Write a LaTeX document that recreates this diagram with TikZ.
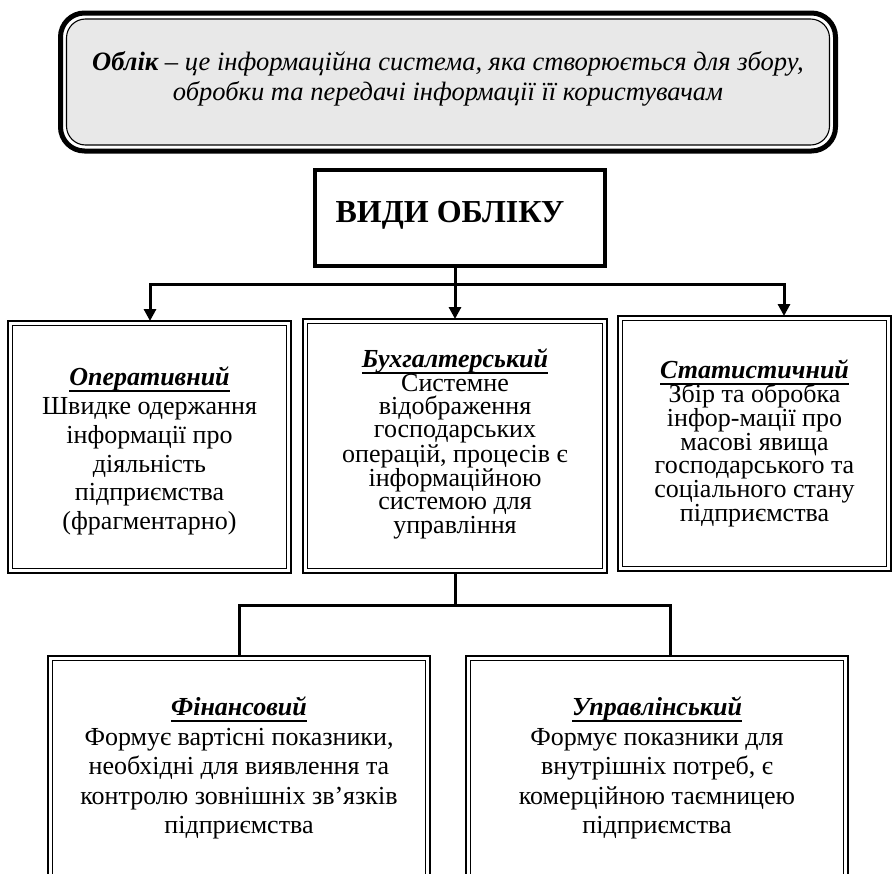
\documentclass[tikz,border=0pt]{standalone}
\usepackage{fontspec}
\setmainfont{Liberation Serif}
\usetikzlibrary{arrows.meta,backgrounds}
\lineskiplimit=-100pt
% heading: bold italic with a heavy underline
\newcommand\hd[1]{\setbox0=\hbox{\bfseries\itshape #1}\leavevmode\rlap{\raisebox{-6pt}{\rule{\wd0}{2pt}}}\box0}
% shift a block vertically while keeping its reported size
\newcommand\nudge[2]{\raisebox{#1}[\height][\depth]{#2}}
\begin{document}
\begin{tikzpicture}[x=1pt,y=-1pt,
  frame/.style={draw=black, line width=2.4pt, inner sep=0pt, outer sep=0pt, align=center},
  innerframe/.style={draw=black, line width=1.1pt},
  conn/.style={line width=3pt, draw=black},
  arr/.style={conn, -{Triangle[length=12pt,width=12pt]}},
]
\useasboundingbox (0,0) rectangle (894,873);
\clip (0,0) rectangle (894,873);

% definition banner
\node[draw=black, line width=5pt, rounded corners=24pt, minimum width=775pt, minimum height=138pt,
      inner sep=0pt, outer sep=0pt, align=center,
      font=\fontsize{26.5}{30}\selectfont\itshape] (def) at (448,82)
  {\nudge{3pt}{\parbox{770pt}{\centering\textbf{Облік} – це інформаційна система, яка створюється для збору,\\ обробки та передачі інформації її користувачам}}};
\begin{scope}[on background layer]
  \draw[line width=1.1pt, fill=black!9, rounded corners=19pt]
    ([shift={(6pt,-6pt)}]def.north west) rectangle ([shift={(-6pt,6pt)}]def.south east);
\end{scope}

% title box
\node[draw=black, line width=4.5pt, minimum width=290pt, minimum height=96pt, outer sep=0pt] (vidy) at (460,218) {};
\node[font=\fontsize{32}{36}\selectfont\bfseries] (vidyt) at (450,215) {ВИДИ ОБЛІКУ};

% kinds of accounting
\node[frame, minimum width=283pt, minimum height=252pt, font=\fontsize{26}{28.8}\selectfont] (b1) at (149.5,447)
  {\nudge{-4pt}{\parbox{270pt}{\centering\hd{Оперативний}\\Швидке одержання\\інформації про\\діяльність\\підприємства\\(фрагментарно)}}};
\node[frame, minimum width=304pt, minimum height=254pt, font=\fontsize{26}{23.3}\selectfont] (b2) at (455,446)
  {\nudge{2pt}{\parbox{290pt}{\centering\hd{Бухгалтерський}\\Системне\\відображення\\господарських\\операцій, процесів є\\інформаційною\\системою для\\управління}}};
\node[frame, minimum width=273pt, minimum height=255pt, font=\fontsize{26}{23.8}\selectfont] (b3) at (754.5,443.5)
  {\hd{Статистичний}\\Збір та обробка\\інфор-мації про\\масові явища\\господарського та\\соціального стану\\підприємства};
\node[frame, minimum width=382pt, minimum height=224pt, font=\fontsize{26}{29.5}\selectfont] (b4) at (239,768)
  {\hd{Фінансовий}\\Формує вартісні показники,\\необхідні для виявлення та\\контролю зовнішніх зв’язків\\підприємства};
\node[frame, minimum width=382pt, minimum height=224pt, font=\fontsize{26}{29.5}\selectfont] (b5) at (657,768)
  {\hd{Управлінський}\\Формує показники для\\внутрішніх потреб, є\\комерційною таємницею\\підприємства};

\foreach \n in {b1,b2,b3,b4,b5}
  \draw[innerframe] ([shift={(4.7pt,-4.7pt)}]\n.north west) rectangle ([shift={(-4.7pt,4.7pt)}]\n.south east);

% branching from the title
\coordinate (bm) at (455,284);
\coordinate (bl) at (150,284);
\coordinate (br) at (784,284);
\draw[arr] (vidy.south -| bm) -- (bm |- b2.north);
\draw[arr] (bm) -| (bl |- b1.north);
\draw[arr] (bm) -| (br |- b3.north);

% split of the accounting box
\coordinate (j) at (455,605);
\coordinate (jr) at (670,605);
\draw[conn] (b2.south) -- (j);
\draw[conn] (j) -| (b4.north);
\draw[conn] (j) -| (jr |- b5.north);
\end{tikzpicture}
\end{document}
